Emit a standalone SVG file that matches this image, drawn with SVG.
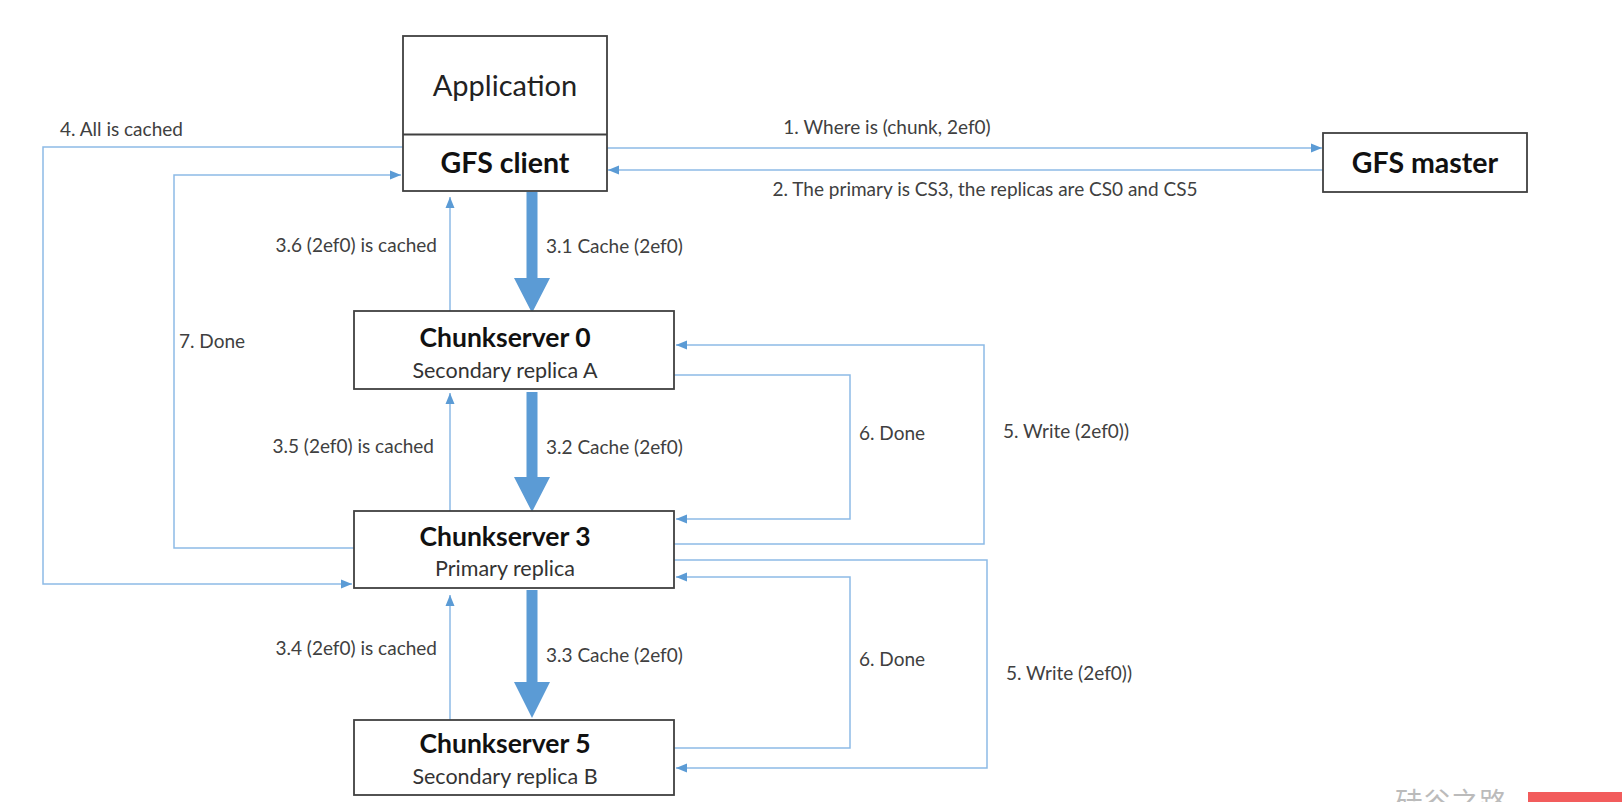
<svg xmlns="http://www.w3.org/2000/svg" width="1622" height="802" viewBox="0 0 1622 802">
<style>
.box{fill:#fff;stroke:#404040;stroke-width:1.8}
.title{font-family:Lato,"Open Sans",sans-serif;font-weight:bold;fill:#111;text-anchor:middle}
.sub{font-family:Lato,"Open Sans",sans-serif;fill:#333;text-anchor:middle;font-size:21.5px}
.lbl{font-family:Lato,"Open Sans",sans-serif;fill:#404040;font-size:19px}
.thin{fill:none;stroke:#8DBAE6;stroke-width:1.5}
.thick{fill:#5B9BD5}
</style>
<defs>
<marker id="ah" markerUnits="userSpaceOnUse" markerWidth="12" markerHeight="12" viewBox="0 0 12 12" refX="11" refY="6" orient="auto">
<path d="M0,1.5 L11,6 L0,10.5 Z" fill="#5B9BD5"/>
</marker>
</defs>
<rect width="1622" height="802" fill="#fff"/>
<g id="connectors">
<line class="thin" x1="607" y1="148" x2="1322" y2="148" marker-end="url(#ah)"/>
<line class="thin" x1="1323" y1="170" x2="608" y2="170" marker-end="url(#ah)"/>
<path class="thin" d="M403,147 H43 V584 H352" marker-end="url(#ah)"/>
<path class="thin" d="M354,548 H174 V175 H401" marker-end="url(#ah)"/>
<line class="thin" x1="450" y1="311" x2="450" y2="197" marker-end="url(#ah)"/>
<line class="thin" x1="450" y1="511" x2="450" y2="393" marker-end="url(#ah)"/>
<line class="thin" x1="450" y1="720" x2="450" y2="595" marker-end="url(#ah)"/>
<path class="thin" d="M674,375 H850 V519 H676" marker-end="url(#ah)"/>
<path class="thin" d="M674,544 H984 V345 H676" marker-end="url(#ah)"/>
<path class="thin" d="M674,560 H987 V768 H676" marker-end="url(#ah)"/>
<path class="thin" d="M674,748 H850 V577 H676" marker-end="url(#ah)"/>
<path class="thick" d="M526.5,192 H537.5 V278 H550 L532,313 L514,278 H526.5 Z"/>
<path class="thick" d="M526.5,392 H537.5 V477 H550 L532,512 L514,477 H526.5 Z"/>
<path class="thick" d="M526.5,590 H537.5 V682 H550 L532,718 L514,682 H526.5 Z"/>
<text class="lbl" x="887" y="134" text-anchor="middle">1. Where is (chunk, 2ef0)</text>
<text class="lbl" x="985" y="196" text-anchor="middle">2. The primary is CS3, the replicas are CS0 and CS5</text>
<text class="lbl" x="60" y="136">4. All is cached</text>
<text class="lbl" x="179" y="348">7. Done</text>
<text class="lbl" x="437" y="252" text-anchor="end">3.6 (2ef0) is cached</text>
<text class="lbl" x="546" y="253">3.1 Cache (2ef0)</text>
<text class="lbl" x="434" y="453" text-anchor="end">3.5 (2ef0) is cached</text>
<text class="lbl" x="546" y="454">3.2 Cache (2ef0)</text>
<text class="lbl" x="859" y="440">6. Done</text>
<text class="lbl" x="1003" y="438">5. Write (2ef0))</text>
<text class="lbl" x="437" y="655" text-anchor="end">3.4 (2ef0) is cached</text>
<text class="lbl" x="546" y="662">3.3 Cache (2ef0)</text>
<text class="lbl" x="859" y="666">6. Done</text>
<text class="lbl" x="1006" y="680">5. Write (2ef0))</text>
</g>
<g id="application">
<rect class="box" x="403" y="36" width="204" height="155"/>
<line x1="403" y1="134.5" x2="607" y2="134.5" stroke="#404040" stroke-width="1.8"/>
<text x="505" y="96" font-family="Lato,'Open Sans',sans-serif" font-size="29" fill="#222" text-anchor="middle">Application</text>
</g>
<g id="gfs-client">
<text class="title" x="505" y="173" font-size="28.5">GFS client</text>
</g>
<g id="gfs-master">
<rect class="box" x="1323" y="133" width="204" height="59"/>
<text class="title" x="1425" y="173" font-size="28.5">GFS master</text>
</g>
<g id="cs0">
<rect class="box" x="354" y="311" width="320" height="78"/>
<text class="title" x="505" y="347" font-size="26.5">Chunkserver 0</text>
<text class="sub" x="505" y="378">Secondary replica A</text>
</g>
<g id="cs3">
<rect class="box" x="354" y="511" width="320" height="77"/>
<text class="title" x="505" y="546" font-size="26.5">Chunkserver 3</text>
<text class="sub" x="505" y="576">Primary replica</text>
</g>
<g id="cs5">
<rect class="box" x="354" y="720" width="320" height="75"/>
<text class="title" x="505" y="753" font-size="26.5">Chunkserver 5</text>
<text class="sub" x="505" y="784">Secondary replica B</text>
</g>
<g id="watermark">
<text x="1395" y="813" font-family="'Noto Sans CJK SC',sans-serif" font-size="28" fill="#bbb">硅谷之路</text>
<rect x="1528" y="792" width="94" height="10" fill="#F25C5C"/>
</g>
</svg>
